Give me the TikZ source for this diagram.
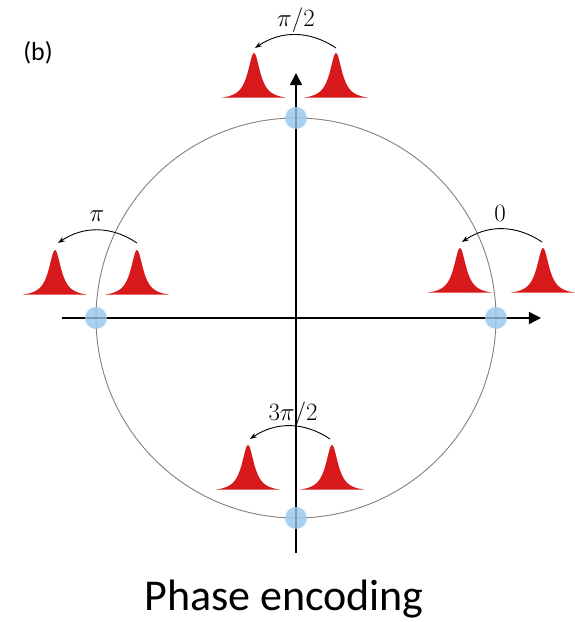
\documentclass[tikz,border=0pt]{standalone}
\usepackage{fontspec}
\setmainfont{Carlito}
\usetikzlibrary{arrows.meta}
\definecolor{pulsered}{RGB}{215,25,28}
\definecolor{dotblue}{RGB}{150,198,236}
\definecolor{circgray}{RGB}{128,128,128}
\newcommand{\pulse}[2]{%
  \fill[pulsered] plot[domain=-32:32,samples=101,smooth] ({#1+\x},{#2+47/(1+(\x/7.5)^2)-1}) -- cycle;}
\newcommand{\phasedot}[2]{%
  \fill[dotblue,fill opacity=0.8] (#1,#2) circle (11);}
\tikzset{
  shiftarrow/.style={-{Stealth[length=7pt,width=5pt]},line width=0.9pt},
  phaselabel/.style={anchor=base,inner sep=0pt,font=\fontsize{24}{28}\selectfont}}

\begin{document}
\begin{tikzpicture}[x=1pt,y=1pt]
    \useasboundingbox (-296,-304) rectangle (278,318);
    \draw[circgray,line width=0.9pt] (0,0) circle (200);
    \draw[line width=1.4pt,-{Triangle[length=12pt,width=12pt]}] (-234,0) -- (245,0);
    \draw[line width=1.4pt,-{Triangle[length=12pt,width=12pt]}] (0,-235) -- (0,245);
    \foreach \px/\py in {200/0,-200/0,0/200,0/-200}{\phasedot{\px}{\py}}
    \foreach \px/\py in {-42/219,40/219,-241/22,-159/22,164/24,247/24,-48/-173,36/-173}{\pulse{\px}{\py}}
    % phase shift arrows and labels
    \draw[shiftarrow] (40,270) to[bend right=34] (-41,270);
    \node[phaselabel] (lbltop) at (0,291) {$\pi/2$};
    \draw[shiftarrow] (-159,75) to[bend right=34] (-238,75);
    \node[phaselabel] (lblleft) at (-199,97) {$\pi$};
    \draw[shiftarrow] (246,76) to[bend right=34] (166,76);
    \node[phaselabel] (lblright) at (204,97) {$0$};
    \draw[shiftarrow] (34,-121) to[bend right=34] (-46,-121);
    \node[phaselabel] (lblbottom) at (-3,-102) {$3\pi/2$};
    \node[anchor=base,font=\fontsize{26}{30}\selectfont] (tag) at (-258,258) {(b)};
    \node[anchor=base,inner sep=0pt,font=\fontsize{44}{50}\selectfont] (title) at (-12,-292) {Phase encoding};
\end{tikzpicture}
\end{document}
